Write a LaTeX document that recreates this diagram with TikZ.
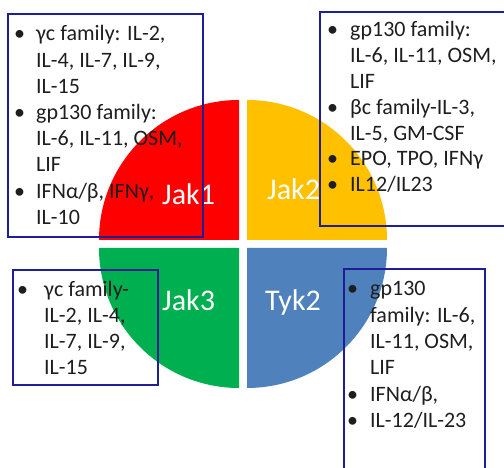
\documentclass[tikz,border=0pt]{standalone}
\usepackage{fontspec}
\setmainfont{Carlito}
\usepackage{array}
\definecolor{jred}{HTML}{FF0000}
\definecolor{jyellow}{HTML}{FFC000}
\definecolor{jgreen}{HTML}{00B050}
\definecolor{jblue}{HTML}{4F81BD}
\definecolor{boxnavy}{RGB}{30,30,150}
\definecolor{txt}{RGB}{30,30,30}
\newcommand{\blist}[3]{\fontsize{22}{#2}\selectfont\begin{tabular}[t]{@{}>{\raggedright\arraybackslash}p{#1pt}@{}l@{}}#3\end{tabular}}
\tikzset{
  boxline/.style={draw=boxnavy, line width=2.4pt},
  listtext/.style={anchor=base west, inner sep=0pt, text=txt},
  jaklabel/.style={anchor=base west, inner sep=0pt, text=white, font=\fontsize{30}{36}\selectfont}
}
\begin{document}
\begin{tikzpicture}[x=1pt,y=1pt]
\useasboundingbox (0,0) rectangle (504,468);
% quadrants
\fill[jred] (239,228) -- (99,228) arc[start angle=180,end angle=90,radius=140] -- cycle;
\fill[jyellow] (247,228) -- (247,368) arc[start angle=90,end angle=0,radius=140] -- cycle;
\fill[jgreen] (239,220) -- (99,220) arc[start angle=180,end angle=270,radius=140] -- cycle;
\fill[jblue] (247,220) -- (387,220) arc[start angle=0,end angle=-90,radius=140] -- cycle;
% labels
\node[jaklabel] (jak1) at (162,263) {Jak1};
\node[jaklabel] (jak2) at (267,268) {Jak2};
\node[jaklabel] (jak3) at (162,157) {Jak3};
\node[jaklabel] (tyk2) at (265,157) {Tyk2};
% lists
\node[listtext] (l1) at (14,427) {\blist{22}{26.2}{%
•& γc family: IL-2,\\ & IL-4, IL-7, IL-9,\\ & IL-15\\
•& gp130 family:\\ & IL-6, IL-11, OSM,\\ & LIF\\
•& IFNα/β, IFNγ,\\ & IL-10}};
\node[listtext] (l2) at (327,431) {\blist{23}{25.8}{%
•& gp130 family:\\ & IL-6, IL-11, OSM,\\ & LIF\\
•& βc family-IL-3,\\ & IL-5, GM-CSF\\
•& EPO, TPO, IFNγ\\
•& IL12/IL23}};
\node[listtext] (l3) at (17,171) {\blist{27}{26}{%
•& γc family-\\ & IL-2, IL-4,\\ & IL-7, IL-9,\\ & IL-15}};
\node[listtext] (l4) at (347,172) {\blist{23}{26.3}{%
•& gp130\\ & family: IL-6,\\ & IL-11, OSM,\\ & LIF\\
•& IFNα/β,\\
•& IL-12/IL-23}};
% boxes
\draw[boxline] (8,454) rectangle (203,231);
\draw[boxline] (510,456) -- (320,456) -- (320,242) -- (510,242);
\draw[boxline] (13,198) rectangle (158,83);
\draw[boxline] (344,-10) -- (344,199) -- (485,199) -- (485,-10);
\end{tikzpicture}
\end{document}
